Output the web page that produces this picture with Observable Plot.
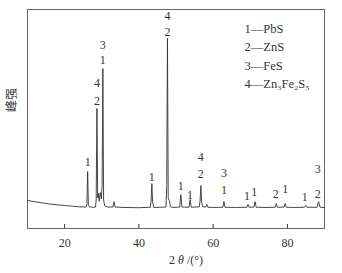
<!DOCTYPE html>
<html><head><meta charset="utf-8">
<script src="https://cdn.jsdelivr.net/npm/d3@7"></script>
<script src="https://cdn.jsdelivr.net/npm/@observablehq/plot@0.6"></script>
<style>body{margin:0;background:#fff}</style>
</head><body><div id="chart"></div>
<script>
// XRD pattern: 2θ (°) and intensity (arbitrary units)
const twoTheta = [10,12,14,16,18,20,22,24,25.8,26.0,26.2,26.4,26.7,27.5,28.3,28.5,28.7,28.9,29.1,29.3,29.6,29.9,30.1,30.3,30.5,30.8,31.5,33.0,33.3,33.6,36,40,43.1,43.3,43.5,43.7,44.0,47.3,47.5,47.7,47.9,48.2,48.5,49,51.0,51.3,51.6,53.5,53.8,54.1,56.3,56.5,56.7,56.9,57.2,58.0,58.3,58.6,60,62.6,62.9,63.2,66,69.1,69.4,69.7,71.0,71.3,71.6,74,76.7,77.0,77.3,79.1,79.4,79.7,82,84.6,84.9,85.2,88.0,88.4,88.8,90];
const intensity = [128,122,117,112,108,105,102,99,98,110,260,108,99,97,98,130,548,140,160,125,164,135,200,730,130,103,98,98,123,98,96,95,97,130,205,120,96,98,200,868,140,128,100,96,98,155,98,97,132,97,99,130,196,120,99,98,110,97,96,97,123,97,96,97,110,97,98,123,97,96,97,114,97,98,114,97,96,97,105,97,97,123,97,96];

// Phase labels above peaks
const peakLabelX = [26.2,28.7,28.7,30.3,30.3,43.5,47.7,47.7,51.3,53.8,56.7,56.7,62.9,62.9,69.1,71.1,76.9,79.4,84.7,88.2,88.2];
const peakLabelY = [301,580,662,767,836,233,895,968,192,151,247,324,174,251,146,164,155,178,142,155,269];
const peakLabelText = ["1","2","4","1","3","1","2","4","1","1","2","4","1","3","1","1","2","1","1","2","3"];

const legendLines = ["1—PbS","2—ZnS","3—FeS","4—Zn₃Fe₂S₅"];
const xTicks = [20,40,60,80];
const xDomain = [10,90];
const yDomain = [0,1000];
const xLabel = "2 θ /(°)";
const yLabel = "峰强";

const pattern = twoTheta.map((t,i)=>({t, v: intensity[i]}));
const labels = peakLabelX.map((x,i)=>({x, y: peakLabelY[i], text: peakLabelText[i]}));

const plot = Plot.plot({
  width: 342, height: 273,
  marginLeft: 27, marginRight: 18, marginTop: 9, marginBottom: 45,
  style: {fontFamily: "'Liberation Serif', serif", fontSize: "12px", color: "#333", background: "#fff"},
  x: {domain: xDomain},
  y: {domain: yDomain, axis: null},
  marks: [
    Plot.frame({stroke: "#666"}),
    Plot.line(pattern, {x: "t", y: "v", stroke: "#333", strokeWidth: 0.9}),
    Plot.text(labels, {x: "x", y: "y", text: "text", fontSize: 12, fill: "#333"}),
    Plot.text([legendLines.join("\n")], {frameAnchor: "top-right", textAnchor: "start", lineAnchor: "top", dx: -80, dy: 11, lineHeight: 1.45, fontSize: 12.5, fill: "#333"}),
    Plot.axisX({ticks: xTicks, tickSize: -4, tickPadding: 14, label: null, fontSize: 12, stroke: "#333"}),
    Plot.text([xLabel], {frameAnchor: "bottom", dy: 35, dx: 10, fontSize: 12, fill: "#333"}),
    Plot.text([yLabel], {frameAnchor: "left", rotate: -90, dx: -15, dy: -7, fontFamily: "'Noto Sans CJK SC'", fontSize: 12, fill: "#333"})
  ]
});
document.getElementById("chart").appendChild(plot);

// italic theta in the x label
d3.select(plot).selectAll("text").each(function(){
  if (this.textContent === xLabel && this.childElementCount === 0) {
    const t = d3.select(this);
    t.text(null);
    t.append("tspan").text("2 ");
    t.append("tspan").attr("font-style", "italic").text("θ");
    t.append("tspan").text(" /(°)");
  }
});
</script>
</body></html>
